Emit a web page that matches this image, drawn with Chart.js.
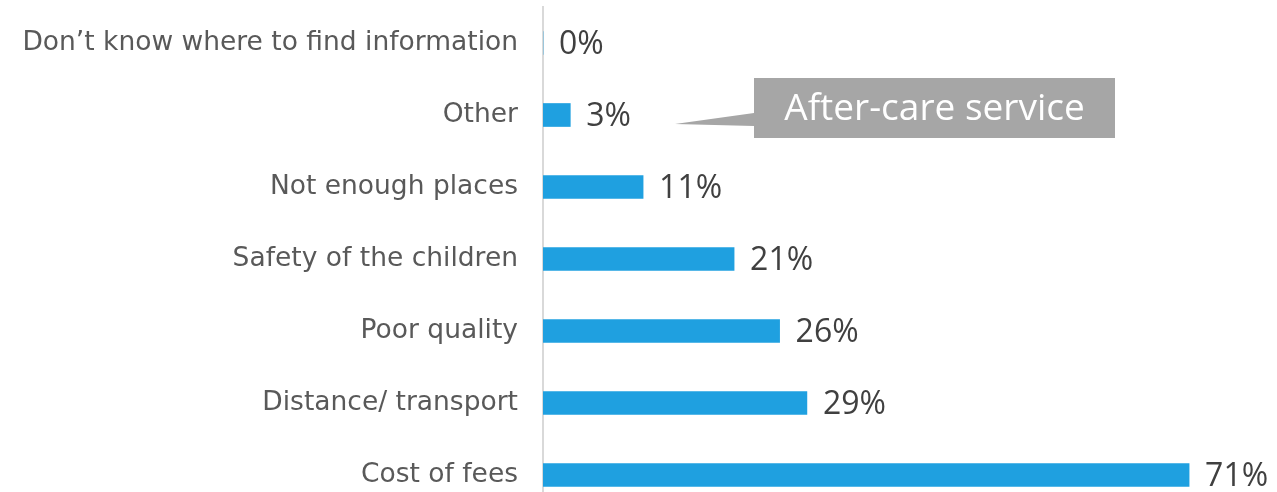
<!DOCTYPE html>
<html>
<head>
<meta charset="utf-8">
<script src="https://cdn.jsdelivr.net/npm/chart.js@4.4.1/dist/chart.umd.min.js"></script>
<style>
  html, body { margin: 0; padding: 0; background: #fff; overflow: hidden; }
  canvas { display: block; }
</style>
</head>
<body>
<canvas id="reasonChart" width="1277" height="520"></canvas>
<script>
const categories = [
    'Don\u2019t know where to find information',
    'Other',
    'Not enough places',
    'Safety of the children',
    'Poor quality',
    'Distance/ transport',
    'Cost of fees'
];
const shares = [0, 3, 11, 21, 26, 29, 71];
const calloutText = 'After-care service';
const calloutCategory = 'Other';

// value labels at the end of each bar
const valueLabels = {
    id: 'valueLabels',
    afterDatasetsDraw(chart) {
        const ctx = chart.ctx;
        const meta = chart.getDatasetMeta(0);
        ctx.save();
        ctx.font = '32px "Open Sans"';
        ctx.fillStyle = '#404040';
        ctx.textAlign = 'left';
        ctx.textBaseline = 'middle';
        meta.data.forEach((bar, i) => {
            ctx.fillText(shares[i] + '%', bar.x + 16, bar.y + 2);
        });
        ctx.restore();
    }
};

// grey speech-bubble callout pointing at the "Other" bar
const callout = {
    id: 'callout',
    afterDatasetsDraw(chart) {
        const ctx = chart.ctx;
        const y = chart.scales.y.getPixelForValue(categories.indexOf(calloutCategory));
        const boxL = 754, boxR = 1115, boxT = y - 37, boxB = y + 23;
        ctx.save();
        ctx.fillStyle = '#a6a6a6';
        ctx.beginPath();
        ctx.moveTo(boxL, boxT);
        ctx.lineTo(boxR, boxT);
        ctx.lineTo(boxR, boxB);
        ctx.lineTo(boxL, boxB);
        ctx.lineTo(boxL, y + 11);
        ctx.lineTo(675, y + 9);
        ctx.lineTo(boxL, y - 2);
        ctx.closePath();
        ctx.fill();
        ctx.fillStyle = '#ffffff';
        ctx.font = '37px "Open Sans"';
        ctx.textAlign = 'center';
        ctx.textBaseline = 'middle';
        ctx.fillText(calloutText, (boxL + boxR) / 2, (boxT + boxB) / 2 + 1);
        ctx.restore();
    }
};

new Chart(document.getElementById('reasonChart').getContext('2d'), {
    type: 'bar',
    data: {
        labels: categories,
        datasets: [{
            data: shares,
            backgroundColor: '#1fa0e0',
            barThickness: 23
        }]
    },
    options: {
        indexAxis: 'y',
        responsive: false,
        animation: false,
        layout: { padding: { top: 7, bottom: 9, right: 6 } },
        plugins: { legend: { display: false }, tooltip: { enabled: false } },
        scales: {
            x: { display: false, min: 0, max: 80 },
            y: {
                afterFit: (scale) => {
                    scale.width = 543;
                    // labels sit inside their bands, no extra room needed
                    scale.paddingTop = 0;
                    scale.paddingBottom = 0;
                },
                grid: { display: false, drawTicks: false },
                border: { color: '#d9d9d9', width: 2 },
                ticks: {
                    color: '#595959',
                    font: { family: 'DejaVu Sans', size: 26.5 },
                    padding: 25
                }
            }
        }
    },
    plugins: [valueLabels, callout]
});
</script>
</body>
</html>
